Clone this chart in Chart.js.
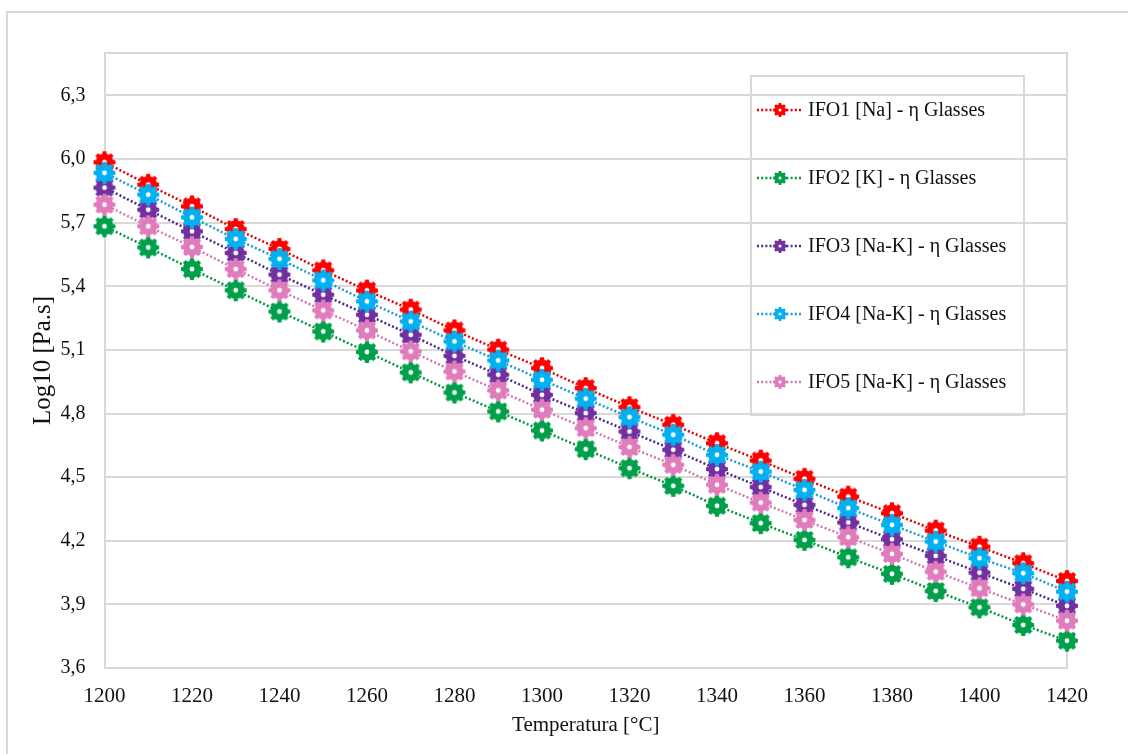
<!DOCTYPE html>
<html>
<head>
<meta charset="utf-8">
<script src="https://cdn.jsdelivr.net/npm/chart.js@4.4.1/dist/chart.umd.min.js"></script>
<style>
  html, body { margin: 0; padding: 0; background: #fff; }
  #wrap { position: relative; width: 1128px; height: 754px; overflow: hidden; }
  #frame { position: absolute; left: 6px; top: 11px; right: -10px; bottom: -10px;
           border-left: 2px solid #d9d9d9; border-top: 2px solid #d9d9d9; }
  canvas { position: absolute; left: 0; top: 0; }
</style>
</head>
<body>
<div id="wrap">
  <div id="frame"></div>
  <canvas id="chart" width="1128" height="754"></canvas>
</div>
<script>
// --- data ---
const temps = [1200, 1210, 1220, 1230, 1240, 1250, 1260, 1270, 1280, 1290, 1300, 1310,
               1320, 1330, 1340, 1350, 1360, 1370, 1380, 1390, 1400, 1410, 1420];

const ifo1 = [5.985, 5.879, 5.777, 5.670, 5.576, 5.475, 5.380, 5.290, 5.192, 5.101, 5.014, 4.920,
              4.830, 4.747, 4.660, 4.578, 4.492, 4.408, 4.330, 4.248, 4.172, 4.094, 4.010];
const ifo2 = [5.683, 5.583, 5.481, 5.381, 5.281, 5.187, 5.090, 4.994, 4.899, 4.810, 4.720, 4.632,
              4.542, 4.459, 4.365, 4.283, 4.204, 4.122, 4.044, 3.963, 3.886, 3.803, 3.729];
const ifo3 = [5.865, 5.761, 5.659, 5.557, 5.455, 5.360, 5.266, 5.171, 5.072, 4.983, 4.888, 4.802,
              4.715, 4.629, 4.538, 4.453, 4.369, 4.286, 4.207, 4.129, 4.050, 3.973, 3.893];
const ifo4 = [5.935, 5.832, 5.725, 5.623, 5.529, 5.428, 5.329, 5.234, 5.140, 5.050, 4.959, 4.870,
              4.783, 4.700, 4.605, 4.526, 4.440, 4.354, 4.275, 4.196, 4.118, 4.047, 3.960];
const ifo5 = [5.785, 5.683, 5.585, 5.481, 5.381, 5.286, 5.192, 5.093, 4.998, 4.909, 4.818, 4.731,
              4.642, 4.558, 4.464, 4.380, 4.298, 4.217, 4.138, 4.054, 3.976, 3.900, 3.823];

const seriesNames = ['IFO1 [Na] - η Glasses', 'IFO2 [K] - η Glasses', 'IFO3 [Na-K] - η Glasses',
                     'IFO4 [Na-K] - η Glasses', 'IFO5 [Na-K] - η Glasses'];

const yTickValues = [3.6, 3.9, 4.2, 4.5, 4.8, 5.1, 5.4, 5.7, 6.0, 6.3];
const yTickLabels = ['3,6', '3,9', '4,2', '4,5', '4,8', '5,1', '5,4', '5,7', '6,0', '6,3'];
const xTickValues = [1200, 1220, 1240, 1260, 1280, 1300, 1320, 1340, 1360, 1380, 1400, 1420];
const xTickLabels = ['1200', '1220', '1240', '1260', '1280', '1300', '1320', '1340', '1360', '1380', '1400', '1420'];

// --- styles ---
const markerColors = ['#ff0000', '#00a04a', '#7030a0', '#00b0f0', '#e07cbc'];
const lineColors   = ['#e00000', '#00963f', '#4b2a8a', '#1a9bd7', '#cf78b0'];
const drawOrder    = [5, 4, 3, 2, 1];   // later series sit on top, like Excel
const GRID = '#d9d9d9';
const FONT = "'Liberation Serif', 'Times New Roman', serif";

// gear shaped marker drawn once per colour
function makeGear(color, d) {
  const c = document.createElement('canvas');
  c.width = c.height = d + 2;
  const g = c.getContext('2d');
  const cx = (d + 2) / 2, R = d / 2, r = R * 0.8, teeth = 8;
  const step = 2 * Math.PI / teeth;
  g.beginPath();
  for (let i = 0; i < teeth; i++) {
    const a = i * step - Math.PI / 2;
    g.arc(cx, cx, R, a - step * 0.24, a + step * 0.24);
    g.arc(cx, cx, r, a + step * 0.32, a + step * 0.68);
  }
  g.closePath();
  g.fillStyle = color;
  g.fill();
  g.beginPath();
  g.arc(cx, cx, R * 0.22, 0, 2 * Math.PI);
  g.fillStyle = '#fff';
  g.fill();
  return c;
}

const allSeries = [ifo1, ifo2, ifo3, ifo4, ifo5];
const bigGears = markerColors.map(c => makeGear(c, 22));
const smallGears = markerColors.map(c => makeGear(c, 14));

const datasets = allSeries.map((vals, i) => ({
  label: seriesNames[i],
  data: temps.map((t, k) => ({ x: t, y: vals[k] })),
  borderColor: lineColors[i],
  borderWidth: 2.5,
  borderDash: [2, 2.2],
  pointStyle: bigGears[i],
  pointRadius: 11,
  order: drawOrder[i],
  clip: false,
  tension: 0
}));

// plot area frame (top + right edge)
const framePlugin = {
  id: 'plotFrame',
  beforeDatasetsDraw(chart) {
    const { ctx, chartArea: a } = chart;
    ctx.save();
    ctx.strokeStyle = GRID;
    ctx.lineWidth = 2;
    ctx.beginPath();
    ctx.moveTo(a.left, a.top);
    ctx.lineTo(a.right, a.top);
    ctx.lineTo(a.right, a.bottom);
    ctx.stroke();
    ctx.restore();
  }
};

// boxed legend inside the plot
const legendPlugin = {
  id: 'boxLegend',
  afterDraw(chart) {
    const ctx = chart.ctx;
    ctx.save();
    ctx.strokeStyle = GRID;
    ctx.lineWidth = 2;
    ctx.strokeRect(751, 76, 273, 339);
    chart.data.datasets.forEach((ds, i) => {
      const y = 110 + i * 68;
      ctx.strokeStyle = lineColors[i];
      ctx.lineWidth = 2.5;
      ctx.setLineDash([2, 2.2]);
      ctx.beginPath();
      ctx.moveTo(757, y);
      ctx.lineTo(803, y);
      ctx.stroke();
      ctx.setLineDash([]);
      const img = smallGears[i];
      ctx.drawImage(img, 780 - img.width / 2, y - img.height / 2);
      ctx.fillStyle = '#111';
      ctx.font = '20px ' + FONT;
      ctx.textBaseline = 'middle';
      ctx.textAlign = 'left';
      ctx.fillText(ds.label, 808, y + 1);
    });
    ctx.restore();
  }
};

new Chart(document.getElementById('chart'), {
  type: 'line',
  data: { datasets },
  plugins: [framePlugin, legendPlugin],
  options: {
    responsive: false,
    animation: false,
    events: [],
    layout: { padding: { left: 20, top: 53, right: 61, bottom: 0 } },
    plugins: { legend: { display: false }, tooltip: { enabled: false } },
    scales: {
      x: {
        type: 'linear',
        min: 1200,
        max: 1420,
        afterBuildTicks: s => { s.ticks = xTickValues.map(v => ({ value: v })); },
        afterFit: s => { s.height = 86; },
        grid: { display: false, drawTicks: false },
        border: { display: true, color: GRID, width: 2 },
        ticks: {
          padding: 16,
          color: '#111',
          font: { family: FONT, size: 21 },
          maxRotation: 0,
          callback: (v, i) => xTickLabels[i]
        },
        title: {
          display: true,
          text: 'Temperatura [°C]',
          color: '#111',
          font: { family: FONT, size: 21 },
          padding: { top: 0, bottom: 16 }
        }
      },
      y: {
        min: 3.6,
        max: 6.5,
        afterBuildTicks: s => { s.ticks = yTickValues.map(v => ({ value: v })); },
        afterFit: s => { s.width = 84.5; },
        grid: { color: GRID, lineWidth: 2, drawTicks: false },
        border: { display: true, color: GRID, width: 2 },
        ticks: {
          padding: 19,
          color: '#111',
          font: { family: FONT, size: 20 },
          callback: (v, i) => yTickLabels[i]
        },
        title: {
          display: true,
          text: 'Log10 [Pa.s]',
          color: '#111',
          font: { family: FONT, size: 25 },
          padding: { top: 8, bottom: 0 }
        }
      }
    }
  }
});
</script>
</body>
</html>
